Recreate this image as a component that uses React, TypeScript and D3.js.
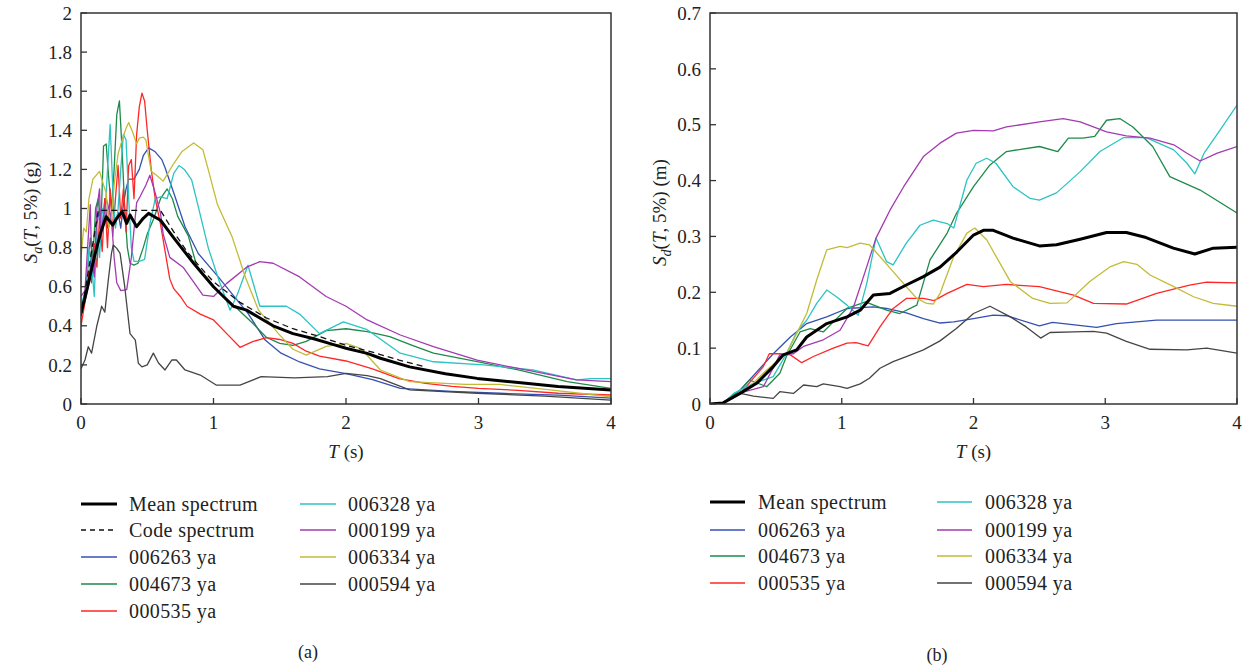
import React from "react";
import * as d3 from "d3";

type P = [number, number];

// ---------- Panel (a): Sa ----------
const saMean: P[] = [[0,0.465],[0.05,0.6],[0.1,0.75],[0.15,0.88],[0.19,0.958],[0.24,0.915],[0.27,0.95],[0.31,0.984],[0.345,0.924],[0.37,0.967],[0.42,0.907],[0.47,0.95],[0.51,0.975],[0.6,0.94],[0.7,0.85],[0.85,0.72],[1.0,0.6],[1.15,0.5],[1.25,0.48],[1.35,0.44],[1.45,0.4],[1.6,0.36],[1.75,0.335],[1.9,0.305],[2.0,0.285],[2.16,0.259],[2.26,0.234],[2.48,0.19],[2.75,0.155],[2.99,0.131],[3.3,0.11],[3.6,0.09],[4.0,0.072]];
const saCode: P[] = [[0,0.45],[0.13,0.99],[0.6,0.99],[0.7,0.88],[0.8,0.78],[0.9,0.7],[1.0,0.625],[1.2,0.52],[1.4,0.44],[1.6,0.385],[1.8,0.345],[2.0,0.3],[2.2,0.265],[2.4,0.225],[2.6,0.19]];
const sa006263: P[] = [[0,0.45],[0.04,0.55],[0.06,0.62],[0.08,0.78],[0.1,0.72],[0.12,0.92],[0.14,1.0],[0.16,0.9],[0.18,1.05],[0.2,0.9],[0.22,0.93],[0.24,1.02],[0.26,0.92],[0.28,0.98],[0.3,0.9],[0.32,1.02],[0.34,1.1],[0.36,1.15],[0.4,1.15],[0.44,1.2],[0.47,1.27],[0.51,1.31],[0.56,1.29],[0.61,1.25],[0.634,1.21],[0.71,1.06],[0.785,0.907],[0.885,0.77],[1.036,0.65],[1.137,0.566],[1.26,0.464],[1.39,0.327],[1.51,0.26],[1.65,0.215],[1.8,0.18],[2.0,0.155],[2.2,0.125],[2.41,0.08],[2.8,0.065],[3.16,0.055],[3.6,0.045],[4.0,0.03]];
const sa004673: P[] = [[0,0.45],[0.04,0.6],[0.07,0.85],[0.09,0.75],[0.11,1.0],[0.13,1.05],[0.15,0.9],[0.17,1.32],[0.19,1.33],[0.21,1.15],[0.23,1.0],[0.25,1.2],[0.27,1.48],[0.29,1.55],[0.31,1.3],[0.33,1.0],[0.35,0.8],[0.37,0.72],[0.4,0.71],[0.43,0.72],[0.47,0.8],[0.5,0.87],[0.55,0.95],[0.6,1.05],[0.65,1.1],[0.69,1.05],[0.73,0.96],[0.81,0.86],[0.88,0.69],[1.0,0.6],[1.16,0.5],[1.3,0.41],[1.4,0.34],[1.5,0.31],[1.6,0.3],[1.7,0.32],[1.85,0.375],[2.0,0.385],[2.16,0.37],[2.33,0.345],[2.5,0.3],[2.66,0.26],[3.0,0.215],[3.3,0.174],[3.67,0.114],[4.0,0.08]];
const sa000535: P[] = [[0,0.4],[0.03,0.52],[0.06,0.68],[0.08,0.62],[0.1,0.82],[0.12,0.7],[0.14,0.95],[0.16,0.78],[0.18,1.05],[0.2,0.8],[0.22,1.1],[0.24,0.86],[0.26,1.05],[0.28,1.22],[0.3,0.95],[0.32,1.1],[0.34,0.88],[0.36,1.22],[0.38,1.25],[0.4,1.05],[0.42,1.38],[0.44,1.52],[0.46,1.59],[0.48,1.55],[0.5,1.4],[0.53,1.2],[0.56,1.05],[0.6,0.92],[0.63,0.8],[0.67,0.64],[0.7,0.59],[0.75,0.55],[0.8,0.5],[0.9,0.46],[1.0,0.43],[1.1,0.36],[1.2,0.29],[1.3,0.32],[1.4,0.34],[1.5,0.33],[1.6,0.31],[1.7,0.27],[1.8,0.245],[2.0,0.22],[2.2,0.18],[2.4,0.13],[2.6,0.105],[2.8,0.09],[3.0,0.08],[3.3,0.07],[3.6,0.055],[4.0,0.046]];
const sa006328: P[] = [[0,0.5],[0.04,0.6],[0.06,0.8],[0.08,0.72],[0.1,0.55],[0.12,0.9],[0.14,0.75],[0.16,1.0],[0.18,0.95],[0.2,1.2],[0.22,1.43],[0.24,1.1],[0.26,0.9],[0.28,1.0],[0.3,1.2],[0.32,1.38],[0.34,1.35],[0.36,1.05],[0.38,0.8],[0.4,0.73],[0.44,0.73],[0.48,0.74],[0.52,0.92],[0.56,1.05],[0.6,1.06],[0.65,1.05],[0.7,1.18],[0.74,1.22],[0.78,1.2],[0.835,1.146],[0.885,1.01],[0.96,0.8],[1.04,0.634],[1.125,0.48],[1.18,0.56],[1.26,0.71],[1.35,0.5],[1.55,0.5],[1.65,0.46],[1.8,0.36],[1.98,0.42],[2.16,0.38],[2.41,0.26],[2.66,0.216],[3.04,0.2],[3.41,0.174],[3.74,0.123],[3.85,0.13],[4.0,0.13]];
const sa000199: P[] = [[0,0.55],[0.03,0.58],[0.05,0.8],[0.07,1.02],[0.08,0.75],[0.1,0.65],[0.12,1.0],[0.14,1.1],[0.15,0.85],[0.17,0.95],[0.19,1.05],[0.21,1.0],[0.23,0.95],[0.25,0.75],[0.27,0.62],[0.3,0.58],[0.345,0.585],[0.38,0.75],[0.42,1.03],[0.445,1.06],[0.49,1.12],[0.52,1.17],[0.56,1.08],[0.6,0.975],[0.62,0.87],[0.67,0.75],[0.77,0.7],[0.92,0.557],[1.0,0.55],[1.1,0.617],[1.25,0.7],[1.35,0.728],[1.45,0.72],[1.65,0.65],[1.85,0.55],[2.0,0.5],[2.16,0.43],[2.41,0.353],[2.66,0.293],[2.99,0.225],[3.29,0.183],[3.74,0.123],[4.0,0.114]];
const sa006334: P[] = [[0,0.75],[0.02,0.9],[0.04,0.88],[0.06,1.05],[0.09,1.15],[0.14,1.19],[0.17,1.12],[0.19,1.08],[0.21,0.9],[0.23,0.95],[0.25,1.12],[0.28,1.28],[0.31,1.35],[0.34,1.41],[0.36,1.44],[0.39,1.39],[0.42,1.33],[0.44,1.36],[0.47,1.365],[0.49,1.35],[0.53,1.19],[0.57,1.17],[0.62,1.14],[0.7,1.23],[0.76,1.29],[0.85,1.335],[0.92,1.3],[0.96,1.2],[1.03,1.02],[1.14,0.856],[1.24,0.65],[1.34,0.48],[1.49,0.36],[1.6,0.28],[1.7,0.25],[1.85,0.295],[2.0,0.31],[2.11,0.285],[2.26,0.174],[2.48,0.114],[2.9,0.1],[3.16,0.1],[3.54,0.072],[4.0,0.037]];
const sa000594: P[] = [[0,0.18],[0.03,0.225],[0.055,0.293],[0.08,0.26],[0.118,0.395],[0.156,0.5],[0.18,0.47],[0.206,0.634],[0.23,0.77],[0.243,0.813],[0.27,0.796],[0.295,0.77],[0.33,0.6],[0.37,0.36],[0.41,0.327],[0.433,0.208],[0.46,0.19],[0.5,0.2],[0.546,0.26],[0.585,0.21],[0.634,0.174],[0.685,0.225],[0.72,0.225],[0.785,0.174],[0.9,0.148],[1.02,0.097],[1.2,0.097],[1.36,0.14],[1.61,0.134],[1.86,0.14],[2.0,0.157],[2.16,0.145],[2.26,0.13],[2.48,0.072],[2.99,0.055],[3.5,0.04],[4.0,0.02]];

// ---------- Panel (b): Sd ----------
const sdMean: P[] = [[0,0],[0.1,0.002],[0.228,0.019],[0.354,0.037],[0.48,0.067],[0.556,0.088],[0.658,0.097],[0.734,0.12],[0.886,0.144],[1.04,0.156],[1.14,0.168],[1.24,0.195],[1.366,0.198],[1.49,0.213],[1.62,0.228],[1.746,0.245],[1.873,0.272],[2.0,0.3025],[2.075,0.311],[2.15,0.311],[2.3,0.297],[2.5,0.283],[2.63,0.285],[2.81,0.295],[3.01,0.307],[3.16,0.307],[3.31,0.298],[3.517,0.279],[3.68,0.2685],[3.82,0.279],[4.0,0.2805]];
const sd006263: P[] = [[0,0],[0.1,0.002],[0.23,0.025],[0.48,0.09],[0.61,0.12],[0.734,0.144],[0.886,0.156],[1.04,0.171],[1.24,0.174],[1.34,0.171],[1.49,0.163],[1.62,0.153],[1.746,0.145],[1.85,0.147],[2.0,0.153],[2.15,0.159],[2.25,0.158],[2.5,0.14],[2.6,0.146],[2.935,0.137],[3.085,0.144],[3.39,0.15],[4.0,0.15]];
const sd004673: P[] = [[0,0],[0.1,0.002],[0.23,0.025],[0.3,0.043],[0.43,0.031],[0.53,0.055],[0.58,0.085],[0.683,0.129],[0.76,0.135],[0.86,0.129],[0.936,0.147],[1.04,0.171],[1.18,0.183],[1.34,0.168],[1.44,0.162],[1.57,0.177],[1.67,0.258],[1.8,0.306],[1.87,0.341],[2.0,0.389],[2.125,0.428],[2.25,0.452],[2.5,0.461],[2.64,0.452],[2.72,0.476],[2.83,0.476],[2.92,0.479],[3.01,0.508],[3.11,0.511],[3.21,0.496],[3.36,0.461],[3.49,0.407],[3.72,0.383],[4.0,0.342]];
const sd000535: P[] = [[0,0],[0.1,0.002],[0.23,0.019],[0.405,0.067],[0.45,0.09],[0.53,0.09],[0.61,0.088],[0.696,0.074],[0.785,0.085],[0.936,0.1],[1.04,0.109],[1.11,0.11],[1.2,0.104],[1.29,0.138],[1.39,0.171],[1.49,0.189],[1.62,0.189],[1.7,0.185],[1.8,0.198],[1.95,0.214],[2.075,0.21],[2.25,0.214],[2.5,0.21],[2.76,0.195],[2.91,0.18],[3.16,0.179],[3.39,0.198],[3.64,0.213],[3.77,0.218],[4.0,0.217]];
const sd006328: P[] = [[0,0],[0.1,0.002],[0.18,0.019],[0.33,0.037],[0.48,0.049],[0.58,0.09],[0.658,0.129],[0.734,0.15],[0.81,0.18],[0.886,0.204],[0.96,0.192],[1.04,0.177],[1.125,0.159],[1.19,0.216],[1.26,0.297],[1.34,0.255],[1.39,0.249],[1.49,0.288],[1.594,0.32],[1.695,0.329],[1.8,0.323],[1.85,0.315],[1.95,0.401],[2.02,0.431],[2.1,0.44],[2.17,0.431],[2.3,0.389],[2.43,0.368],[2.5,0.365],[2.63,0.378],[2.81,0.416],[2.96,0.452],[3.14,0.477],[3.31,0.477],[3.52,0.455],[3.62,0.431],[3.68,0.412],[3.75,0.449],[3.87,0.49],[4.0,0.535]];
const sd000199: P[] = [[0,0],[0.1,0.002],[0.23,0.02],[0.405,0.031],[0.53,0.088],[0.633,0.09],[0.71,0.103],[0.86,0.115],[0.987,0.132],[1.09,0.174],[1.19,0.246],[1.26,0.297],[1.366,0.347],[1.47,0.389],[1.62,0.443],[1.746,0.467],[1.87,0.485],[2.0,0.49],[2.15,0.489],[2.25,0.496],[2.5,0.505],[2.68,0.511],[2.81,0.505],[3.01,0.487],[3.16,0.48],[3.34,0.476],[3.52,0.464],[3.62,0.449],[3.72,0.435],[3.85,0.449],[4.0,0.461]];
const sd006334: P[] = [[0,0],[0.1,0.002],[0.3,0.031],[0.43,0.061],[0.58,0.09],[0.683,0.138],[0.734,0.162],[0.81,0.222],[0.886,0.276],[0.987,0.282],[1.04,0.28],[1.14,0.288],[1.21,0.285],[1.29,0.264],[1.39,0.237],[1.49,0.21],[1.57,0.189],[1.645,0.18],[1.695,0.179],[1.746,0.198],[1.85,0.264],[1.95,0.306],[2.01,0.315],[2.1,0.294],[2.28,0.219],[2.45,0.189],[2.58,0.18],[2.71,0.181],[2.88,0.219],[3.04,0.246],[3.14,0.255],[3.24,0.25],[3.34,0.231],[3.52,0.21],[3.67,0.192],[3.82,0.18],[4.0,0.175]];
const sd000594: P[] = [[0,0],[0.1,0.002],[0.23,0.019],[0.33,0.014],[0.48,0.01],[0.53,0.022],[0.633,0.019],[0.71,0.034],[0.81,0.031],[0.86,0.036],[0.987,0.031],[1.04,0.028],[1.14,0.036],[1.21,0.046],[1.29,0.064],[1.39,0.076],[1.49,0.085],[1.62,0.097],[1.746,0.113],[1.87,0.135],[2.0,0.162],[2.125,0.175],[2.28,0.156],[2.4,0.138],[2.51,0.118],[2.58,0.128],[2.76,0.129],[2.91,0.13],[3.01,0.127],[3.16,0.112],[3.34,0.098],[3.62,0.097],[3.77,0.1],[4.0,0.091]];

const xTicks = [0, 1, 2, 3, 4];
const saTicks = [0, 0.2, 0.4, 0.6, 0.8, 1, 1.2, 1.4, 1.6, 1.8, 2];
const sdTicks = [0, 0.1, 0.2, 0.3, 0.4, 0.5, 0.6, 0.7];

const recordNames = ["006263 ya", "004673 ya", "000535 ya", "006328 ya", "000199 ya", "006334 ya", "000594 ya"];
const colors = ["#3550b0", "#1e8a4a", "#ff2626", "#2cc3c3", "#a43ab2", "#c2bb36", "#454545"];

const saRecords = [sa006263, sa004673, sa000535, sa006328, sa000199, sa006334, sa000594];
const sdRecords = [sd006263, sd004673, sd000535, sd006328, sd000199, sd006334, sd000594];

const FONT = "'Liberation Serif', 'Times New Roman', serif";

interface PanelProps {
  id: string;
  left: number; right: number; top: number; bottom: number;
  yMax: number; yTicks: number[]; yFmt: (v: number) => string;
  records: P[][]; mean: P[]; code?: P[];
  sub: string; unit: string;
}

function Panel(p: PanelProps) {
  const x = d3.scaleLinear().domain([0, 4]).range([p.left, p.right]);
  const y = d3.scaleLinear().domain([0, p.yMax]).range([p.bottom, p.top]);
  const line = d3.line<P>().x(d => x(d[0])).y(d => y(d[1]));
  const cx = (p.left + p.right) / 2;
  const cy = (p.top + p.bottom) / 2 + 4;
  return (
    <g>
      <defs>
        <clipPath id={p.id}>
          <rect x={p.left} y={p.top} width={p.right - p.left} height={p.bottom - p.top} />
        </clipPath>
      </defs>
      <g clipPath={`url(#${p.id})`}>
        {p.records.map((r, i) => (
          <path key={i} d={line(r) || ""} fill="none" stroke={colors[i]} strokeWidth={1.3} strokeLinejoin="round" />
        ))}
        {p.code && <path d={line(p.code) || ""} fill="none" stroke="#111" strokeWidth={1.3} strokeDasharray="6,4" />}
        <path d={line(p.mean) || ""} fill="none" stroke="#000" strokeWidth={3} strokeLinejoin="round" />
      </g>
      <rect x={p.left} y={p.top} width={p.right - p.left} height={p.bottom - p.top} fill="none" stroke="#333" strokeWidth={1.5} />
      {p.yTicks.map((t, i) => (
        <g key={i}>
          <line x1={p.left} x2={p.left + 6} y1={y(t)} y2={y(t)} stroke="#333" strokeWidth={1.3} />
          <text x={p.left - 9} y={y(t)} dy="0.35em" textAnchor="end" fontFamily={FONT} fontSize={19} fill="#222">{p.yFmt(t)}</text>
        </g>
      ))}
      {xTicks.map((t, i) => (
        <g key={i}>
          <line x1={x(t)} x2={x(t)} y1={p.bottom} y2={p.bottom - 6} stroke="#333" strokeWidth={1.3} />
          <text x={x(t)} y={p.bottom + 25} textAnchor="middle" fontFamily={FONT} fontSize={19} fill="#222">{t}</text>
        </g>
      ))}
      <text x={cx} y={p.bottom + 54} textAnchor="middle" fontFamily={FONT} fontSize={19} fill="#222">
        <tspan fontStyle="italic">T</tspan> (s)
      </text>
      <text transform={`translate(${p.left - 44},${cy}) rotate(-90)`} textAnchor="middle" fontFamily={FONT} fontSize={19} fill="#222">
        <tspan fontStyle="italic">S</tspan>
        <tspan fontStyle="italic" fontSize={14} dy={5}>{p.sub}</tspan>
        <tspan dy={-5}>(</tspan>
        <tspan fontStyle="italic">T</tspan>
        <tspan>, 5%) ({p.unit})</tspan>
      </text>
    </g>
  );
}

interface LegendItem { label: string; color: string; width: number; dash?: string }

function Legend({ items, x1, x2, rowY, lineLen, textGap }: { items: LegendItem[][]; x1: number; x2: number; rowY: number[]; lineLen: number; textGap: number }) {
  const cols = [x1, x2];
  return (
    <g>
      {items.map((col, ci) => col.map((it, ri) => (
        <g key={`${ci}-${ri}`}>
          <line x1={cols[ci]} x2={cols[ci] + lineLen} y1={rowY[ri]} y2={rowY[ri]} stroke={it.color} strokeWidth={it.width} strokeDasharray={it.dash} />
          <text x={cols[ci] + lineLen + textGap} y={rowY[ri]} dy="0.33em" fontFamily={FONT} fontSize={20} letterSpacing={0.4} fill="#222">{it.label}</text>
        </g>
      )))}
    </g>
  );
}

export default function App() {
  const meanItem: LegendItem = { label: "Mean spectrum", color: "#000", width: 3 };
  const codeItem: LegendItem = { label: "Code spectrum", color: "#111", width: 1.3, dash: "5,4" };
  const rec = recordNames.map((n, i) => ({ label: n, color: colors[i], width: 1.5 }));
  const legA: LegendItem[][] = [[meanItem, codeItem, rec[0], rec[1], rec[2]], [rec[3], rec[4], rec[5], rec[6]]];
  const legB: LegendItem[][] = [[meanItem, rec[0], rec[1], rec[2]], [rec[3], rec[4], rec[5], rec[6]]];
  return (
    <svg width={1250} height={669} style={{ display: "block", position: "absolute", left: 0, top: 0, background: "#fff" }}>
      <rect x={0} y={0} width={1250} height={669} fill="#fff" />
      <Panel id="clipA" left={81} right={611} top={13} bottom={404} yMax={2} yTicks={saTicks}
        yFmt={v => d3.format("~g")(v)} records={saRecords} mean={saMean} code={saCode} sub="a" unit="g" />
      <Panel id="clipB" left={710} right={1237} top={13} bottom={404} yMax={0.7} yTicks={sdTicks}
        yFmt={v => (v === 0 ? "0" : d3.format(".1f")(v))} records={sdRecords} mean={sdMean} sub="d" unit="m" />
      <Legend items={legA} x1={81} x2={300} rowY={[504, 530, 557, 584, 611]} lineLen={36} textGap={12} />
      <Legend items={legB} x1={710} x2={937} rowY={[502, 530, 556, 583]} lineLen={35} textGap={13} />
      <text x={308} y={658} textAnchor="middle" fontFamily={FONT} fontSize={18} fill="#222">(a)</text>
      <text x={937} y={661} textAnchor="middle" fontFamily={FONT} fontSize={18} fill="#222">(b)</text>
    </svg>
  );
}
